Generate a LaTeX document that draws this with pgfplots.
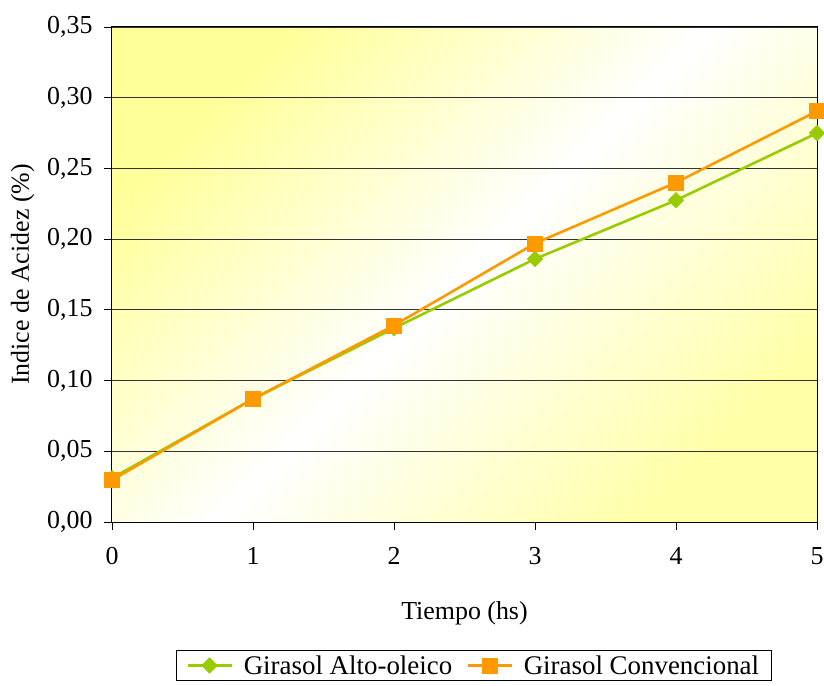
\documentclass[border=0pt]{standalone}
\usepackage{fontspec}
\setmainfont{Liberation Serif}
\usepackage{pgfplots}
\pgfplotsset{compat=1.18}
\definecolor{bgyellow}{HTML}{FFFF99}
\definecolor{cgreen}{HTML}{99CC00}
\definecolor{corange}{HTML}{FF9900}
\begin{document}
\begin{tikzpicture}[font=\fontsize{26}{31}\selectfont]
\begin{axis}[
  at={(0,0)}, anchor=south west,
  scale only axis, width=705bp, height=495bp,
  xmin=0, xmax=5, ymin=0, ymax=0.35,
  xtick={0,1,2,3,4,5},
  ytick={0,0.05,0.1,0.15,0.2,0.25,0.3,0.35},
  xtick pos=bottom, ytick pos=left,
  tick align=outside, major tick length=8bp,
  tick style={black, line width=0.8bp},
  axis line style={black, line width=1bp},
  ymajorgrids, grid style={black!80, line width=0.8bp},
  /pgf/number format/assume math mode=true,
  yticklabel style={/pgf/number format/use comma, /pgf/number format/fixed, /pgf/number format/fixed zerofill, /pgf/number format/precision=2, xshift=-8bp},
  xticklabel style={/pgf/number format/fixed, /pgf/number format/precision=0, yshift=-14bp},
  xlabel={Tiempo (hs)},
  ylabel={Indice de Acidez (\%)},
  xlabel style={yshift=-30bp},
  ylabel style={yshift=6bp},
  axis background/.style={top color=bgyellow, bottom color=bgyellow!85!white, middle color=white, shading angle=45},
  legend columns=2,
  legend style={at={(0.513,-0.2586)}, anchor=north, draw=black, line width=0.8bp,
    font=\fontsize{27}{32}\selectfont, column sep=0bp, inner xsep=10bp, inner ysep=3bp},
  legend image code/.code={\draw[mark repeat=2, mark phase=2, #1] plot coordinates {(0bp,0bp) (22bp,0bp) (44bp,0bp)};},
  clip=false,
]
\addplot[color=cgreen, line width=2.6bp, mark=square*, mark size=5.5bp, mark options={rotate=45, fill=cgreen, draw=cgreen, line width=0.5bp}]
  coordinates {(0,0.031) (1,0.087) (2,0.137) (3,0.186) (4,0.2275) (5,0.275)};
\addlegendentry{\rule{9bp}{0pt}Girasol Alto-oleico\rule{12bp}{0pt}}
\addplot[color=corange, line width=2.6bp, mark=square*, mark size=7.5bp, mark options={fill=corange, draw=corange, line width=0.5bp}]
  coordinates {(0,0.0297) (1,0.087) (2,0.139) (3,0.197) (4,0.240) (5,0.2905)};
\addlegendentry{\rule{9bp}{0pt}Girasol Convencional}
\end{axis}
\pgfresetboundingbox
\path[use as bounding box] (-112bp,-164bp) rectangle (712bp,522bp);
\end{tikzpicture}
\end{document}
